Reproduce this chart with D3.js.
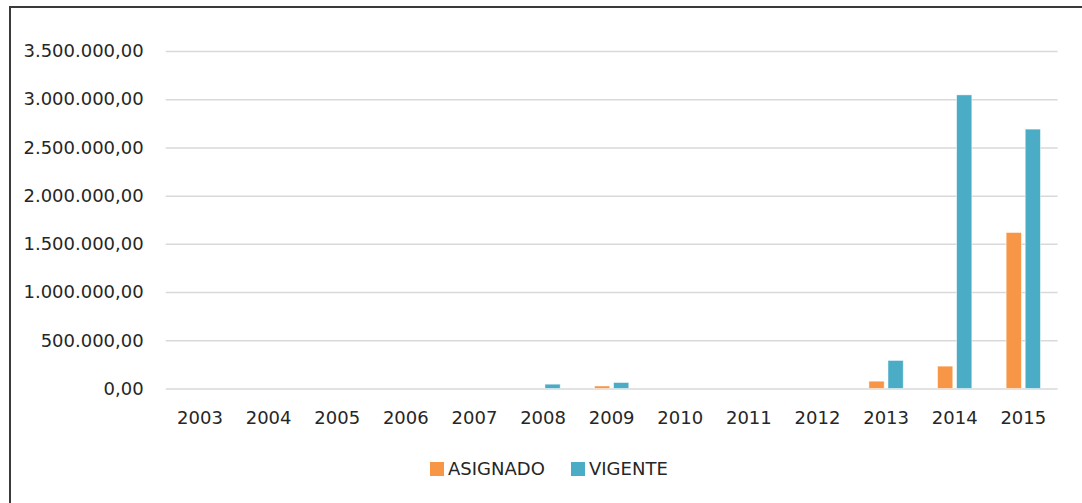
<!DOCTYPE html>
<html>
<head>
<meta charset="utf-8">
<script src="https://cdn.jsdelivr.net/npm/d3@7"></script>
<style>
  html, body { margin: 0; padding: 0; background: #fff; overflow: hidden; }
  text { font-family: "DejaVu Sans", sans-serif; fill: #262626; }
</style>
</head>
<body>
<div id="chart"></div>
<script>
// Data
const years = ["2003", "2004", "2005", "2006", "2007", "2008", "2009", "2010", "2011", "2012", "2013", "2014", "2015"];
const asignado = [0, 0, 0, 0, 0, 0, 26000, 0, 0, 0, 76000, 232000, 1618000];
const vigente = [0, 0, 0, 0, 0, 45000, 62000, 0, 0, 0, 291000, 3045000, 2690000];
const seriesNames = ["ASIGNADO", "VIGENTE"];
const yTicks = [0, 500000, 1000000, 1500000, 2000000, 2500000, 3000000, 3500000];

const width = 1082;
const height = 503;
const plot = { left: 165.7, right: 1057.6, top: 51, bottom: 388.5 };
const colors = { ASIGNADO: "#F79646", VIGENTE: "#4BACC6" };

const locale = d3.formatLocale({ decimal: ",", thousands: ".", grouping: [3], currency: ["", ""] });
const fmt = locale.format(",.2f");

const rows = years.map((y, i) => ({ year: y, ASIGNADO: asignado[i], VIGENTE: vigente[i] }));

const svg = d3.select("#chart")
  .append("svg")
  .attr("width", width)
  .attr("height", height);

// chart frame (cropped on the right and bottom in the reference)
svg.append("rect")
  .attr("x", 10)
  .attr("y", 7)
  .attr("width", 1100)
  .attr("height", 530)
  .attr("fill", "none")
  .attr("stroke", "#3a3a3a")
  .attr("stroke-width", 2);

const x0 = d3.scaleBand()
  .domain(years)
  .range([plot.left, plot.right])
  .paddingInner(0.5)
  .paddingOuter(0.25);

const x1 = d3.scaleBand()
  .domain(seriesNames)
  .range([0, x0.bandwidth()])
  .paddingInner(0.2);

const y = d3.scaleLinear()
  .domain([0, 3500000])
  .range([plot.bottom, plot.top]);

// gridlines + y labels
const yAxis = svg.append("g")
  .attr("transform", `translate(${plot.left},0)`)
  .call(d3.axisLeft(y)
    .tickValues(yTicks)
    .tickFormat(fmt)
    .tickSize(-(plot.right - plot.left))
    .tickPadding(22));

yAxis.select(".domain").remove();
yAxis.selectAll(".tick line")
  .attr("stroke", "#d9d9d9")
  .attr("stroke-width", 1.5);
yAxis.selectAll(".tick text")
  .style("font-size", "18px")
  .attr("fill", "#262626");

// bars
const groups = svg.append("g")
  .selectAll("g")
  .data(rows)
  .join("g")
  .attr("transform", d => `translate(${x0(d.year)},0)`);

groups.selectAll("rect")
  .data(d => seriesNames.map(k => ({ key: k, value: d[k] })))
  .join("rect")
  .attr("x", d => x1(d.key))
  .attr("width", x1.bandwidth())
  .attr("y", d => y(d.value))
  .attr("height", d => y(0) - y(d.value))
  .attr("fill", d => colors[d.key])
  .attr("stroke", d => d.value > 0 ? "#ffffff" : "none")
  .attr("stroke-opacity", 0.6)
  .attr("stroke-width", 0.8);

// x labels
const xAxis = svg.append("g")
  .attr("transform", `translate(0,${plot.bottom})`)
  .call(d3.axisBottom(x0).tickSize(0).tickPadding(23));
xAxis.select(".domain").remove();
xAxis.selectAll(".tick text")
  .style("font-size", "18px")
  .attr("fill", "#262626");

// legend
const legendPos = [430, 571];
const legend = svg.append("g")
  .selectAll("g")
  .data(seriesNames)
  .join("g")
  .attr("transform", (d, i) => `translate(${legendPos[i]},462)`);

legend.append("rect")
  .attr("width", 14)
  .attr("height", 14)
  .attr("fill", d => colors[d]);

legend.append("text")
  .attr("x", 18)
  .attr("y", 7)
  .attr("dy", "0.35em")
  .style("font-size", "18px")
  .text(d => d);
</script>
</body>
</html>
